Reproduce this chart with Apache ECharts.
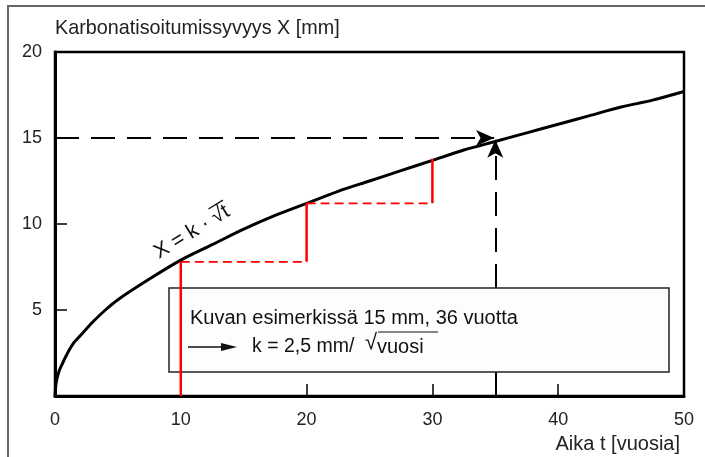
<!DOCTYPE html>
<html>
<head>
<meta charset="utf-8">
<script src="https://cdn.jsdelivr.net/npm/echarts@6/dist/echarts.min.js"></script>
<style>
html,body{margin:0;padding:0;background:#fff;}
#chart{width:705px;height:457px;}
</style>
</head>
<body>
<div id="chart"></div>
<script>
// Curve X = k*sqrt(t)
const curveT = [0, 0.1, 0.3, 0.6, 1, 1.5, 2, 3, 4, 5, 7.5, 10, 12.5, 15, 17.5, 20, 22.5, 25, 27.5, 30, 32.5, 35, 37.5, 40, 42.5, 45, 47.5, 50];
const curveX = [0, 0.8, 1.4, 1.9, 2.5, 3.1, 3.5, 4.3, 5.0, 5.6, 6.8, 7.9, 8.8, 9.7, 10.5, 11.2, 11.9, 12.5, 13.1, 13.7, 14.3, 14.8, 15.3, 15.8, 16.3, 16.8, 17.2, 17.7];
// Red step construction
const stepT = [10, 20, 30];
const stepX = [7.8, 11.2, 13.8];
// Guide arrows (example: 15 mm at ~35 years)
const guideT = 35;
const guideX = 15;
// Tick labels
const xTicks = [0, 10, 20, 30, 40, 50];
const yTicks = [5, 10, 15, 20];

const FONT = '"Liberation Sans", Arial, sans-serif';
const chart = echarts.init(document.getElementById('chart'));

const series = [];
// main curve
series.push({
  type: 'line', z: 4, smooth: 0.3, symbol: 'none',
  lineStyle: {color: '#000', width: 3},
  data: curveT.map((t, i) => [t, curveX[i]]),
  silent: true
});
// red verticals (solid)
stepT.forEach((t, i) => {
  const from = i === 0 ? 0 : stepX[i - 1];
  series.push({
    type: 'line', zlevel: 1, z: 6, symbol: 'none', silent: true,
    lineStyle: {color: '#ff0000', width: 2.5},
    data: [[t, from], [t, stepX[i]]]
  });
});
// red horizontals (dashed)
for (let i = 0; i < stepT.length - 1; i++) {
  series.push({
    type: 'line', zlevel: 1, z: 6, symbol: 'none', silent: true,
    lineStyle: {color: '#ff0000', width: 1.8, type: [9, 5]},
    data: [[stepT[i], stepX[i]], [stepT[i + 1], stepX[i]]]
  });
}
// black dashed guides with arrowheads
series.push({
  type: 'line', z: 2, symbol: 'none', silent: true, data: [],
  markLine: {
    silent: true, symbol: ['none', 'arrow'], symbolSize: [12, 18],
    label: {show: false},
    lineStyle: {color: '#000', width: 2, type: [24, 12]},
    data: [
      [{coord: [0, guideX]}, {coord: [guideT - 0.1, guideX]}],
      [{coord: [guideT, 0]}, {coord: [guideT, guideX - 0.1]}]
    ]
  }
});

chart.setOption({
  animation: false,
  grid: {left: 55, right: 21, top: 52, bottom: 61, show: true, borderColor: '#000', borderWidth: 2.5},
  xAxis: {
    type: 'value', min: 0, max: 50, interval: 10,
    name: 'Aika t [vuosia]', nameLocation: 'end', nameGap: 0,
    nameTextStyle: {fontFamily: FONT, fontSize: 20, color: '#222', align: 'right', verticalAlign: 'top', padding: [38, 4, 0, 0]},
    axisLine: {lineStyle: {color: '#000', width: 3}},
    axisTick: {inside: true, length: 12, lineStyle: {color: '#000', width: 1.5}},
    splitLine: {show: false},
    axisLabel: {fontFamily: FONT, fontSize: 18, color: '#222', margin: 15,
      formatter: v => xTicks.includes(v) ? String(v) : ''}
  },
  yAxis: {
    type: 'value', min: 0, max: 20, interval: 5,
    name: 'Karbonatisoitumissyvyys X [mm]', nameLocation: 'end', nameGap: 13,
    nameTextStyle: {fontFamily: FONT, fontSize: 19.8, color: '#222', align: 'left', verticalAlign: 'bottom'},
    axisLine: {lineStyle: {color: '#000', width: 3}},
    axisTick: {inside: true, length: 12, lineStyle: {color: '#000', width: 1.5}},
    splitLine: {show: false},
    axisLabel: {fontFamily: FONT, fontSize: 18, color: '#222', margin: 13,
      formatter: v => yTicks.includes(v) ? String(v) : ''}
  },
  graphic: [
    {type: 'rect', z: -1, shape: {x: 8, y: 6, width: 720, height: 470},
      style: {fill: 'none', stroke: '#666', lineWidth: 2}},
    {type: 'rect', zlevel: 1, z: 1, shape: {x: 169, y: 288, width: 500, height: 84},
      style: {fill: '#fdfdfd', stroke: '#222', lineWidth: 1.5}},
    {type: 'text', zlevel: 1, z: 7, left: 190, top: 308,
      style: {text: 'Kuvan esimerkissä 15 mm, 36 vuotta', font: '20px ' + FONT, fill: '#111'}},
    {type: 'line', zlevel: 1, z: 7, shape: {x1: 188, y1: 347, x2: 225, y2: 347}, style: {stroke: '#111', lineWidth: 1.5}},
    {type: 'polygon', zlevel: 1, z: 7, shape: {points: [[221, 343], [237, 347], [221, 351]]}, style: {fill: '#111'}},
    {type: 'text', zlevel: 1, z: 7, left: 252, top: 337,
      style: {text: 'k = 2,5 mm/', font: '19.5px ' + FONT, fill: '#111'}},
    {type: 'text', zlevel: 1, z: 7, left: 365, top: 332,
      style: {text: '√', font: '22px ' + FONT, fill: '#111'}},
    {type: 'line', zlevel: 1, z: 7, shape: {x1: 378, y1: 332, x2: 438, y2: 332}, style: {stroke: '#111', lineWidth: 1.2}},
    {type: 'text', zlevel: 1, z: 7, left: 377, top: 337,
      style: {text: 'vuosi', font: '20px ' + FONT, fill: '#111'}},
    {type: 'group', zlevel: 1, z: 7, x: 192, y: 232, rotation: 0.55, children: [
      {type: 'text', zlevel: 1, z: 7, x: 0, y: 0,
        style: {text: 'X = k · √t', font: '21px ' + FONT, fill: '#111', align: 'center', verticalAlign: 'middle'}},
      {type: 'line', zlevel: 1, z: 7, shape: {x1: 26, y1: -11, x2: 43, y2: -11}, style: {stroke: '#111', lineWidth: 1.3}}
    ]}
  ],
  series: series
});
</script>
</body>
</html>
